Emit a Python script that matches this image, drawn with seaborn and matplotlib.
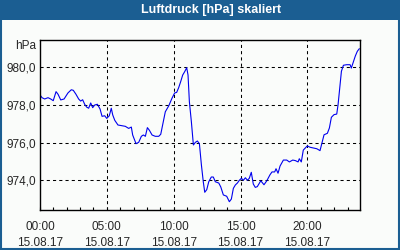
import numpy as np
import pandas as pd
import matplotlib
matplotlib.use("Agg")
import matplotlib.pyplot as plt
from matplotlib.patches import Rectangle
import seaborn as sns

# Data (hours of 15.08.17, pressure in hPa)
hours = [0.05, 0.15, 0.35, 0.60, 0.80, 0.99, 1.20, 1.35, 1.55, 1.80,
         2.09, 2.34, 2.49, 2.69, 2.89, 3.04, 3.19, 3.34, 3.49, 3.64,
         3.79, 3.94, 4.09, 4.29, 4.49, 4.64, 4.84, 4.99, 5.18, 5.33,
         5.44, 5.59, 5.83, 6.13, 6.38, 6.63, 6.83, 6.93, 7.18, 7.38,
         7.58, 7.73, 7.88, 8.03, 8.18, 8.38, 8.62, 8.88, 9.03, 9.22,
         9.37, 9.63, 9.87, 10.07, 10.22, 10.37, 10.52, 10.67, 10.82, 10.97,
         11.07, 11.17, 11.32, 11.47, 11.62, 11.77, 11.92, 12.07, 12.21, 12.32,
         12.47, 12.62, 12.81, 12.96, 13.11, 13.37, 13.52, 13.71, 13.96, 14.16,
         14.31, 14.46, 14.61, 14.76, 14.91, 15.06, 15.21, 15.36, 15.51, 15.65,
         15.80, 15.95, 16.10, 16.25, 16.51, 16.75, 16.96, 17.20, 17.35, 17.55,
         17.65, 17.80, 17.95, 18.20, 18.45, 18.65, 18.90, 19.10, 19.30, 19.39,
         19.54, 19.69, 19.84, 19.99, 20.19, 20.70, 20.94, 21.09, 21.24, 21.49,
         21.64, 21.79, 21.99, 22.19, 22.29, 22.39, 22.54, 22.69, 22.94, 23.19,
         23.28, 23.43, 23.58, 23.73, 23.88]
pressure = [978.49, 978.39, 978.32, 978.39, 978.32, 978.23, 978.71, 978.57, 978.27, 978.32,
            978.64, 978.81, 978.78, 978.57, 978.32, 978.21, 978.28, 978.04, 977.89, 977.83,
            978.11, 977.86, 978.00, 978.04, 977.79, 977.40, 977.43, 977.29, 977.43, 977.83,
            977.47, 977.19, 976.94, 976.90, 976.87, 976.76, 976.83, 976.41, 975.95, 976.02,
            976.34, 976.41, 976.34, 976.80, 976.66, 976.41, 976.34, 976.34, 976.45, 977.11,
            977.64, 977.96, 978.36, 978.64, 978.67, 978.92, 979.24, 979.59, 979.77, 979.98,
            979.59, 978.18, 977.11, 975.88, 976.02, 976.09, 975.95, 974.82, 973.93, 973.37,
            973.51, 973.93, 974.18, 974.18, 973.93, 973.86, 973.65, 973.23, 973.16, 972.87,
            973.01, 973.58, 973.76, 973.86, 974.01, 974.11, 974.01, 974.14, 974.01, 974.11,
            974.43, 973.81, 973.63, 973.67, 973.98, 973.77, 973.98, 974.30, 974.45, 974.45,
            974.62, 974.38, 974.76, 975.08, 975.08, 974.98, 975.08, 975.05, 974.98, 975.15,
            974.98, 975.61, 975.72, 975.83, 975.76, 975.68, 975.58, 976.00, 976.42, 976.50,
            976.78, 977.35, 977.49, 977.52, 978.02, 978.73, 979.79, 980.11, 980.14, 980.14,
            979.96, 980.28, 980.60, 980.85, 980.99]

xtick_pos = [0, 5, 10, 15, 20]
xtick_labels = ["00:00\n15.08.17", "05:00\n15.08.17", "10:00\n15.08.17",
                "15:00\n15.08.17", "20:00\n15.08.17"]
ytick_pos = [974, 976, 978, 980]
ytick_labels = ["974,0", "976,0", "978,0", "980,0"]
title = "Luftdruck [hPa] skaliert"
unit = "hPa"

sns.set_style("white")
plt.rcParams["font.family"] = ["Liberation Sans", "DejaVu Sans"]

bg = "#fafcfa"
frame_blue = "#1b5e92"

fig = plt.figure(figsize=(4, 2.5), dpi=100, facecolor=bg)
ax = fig.add_axes([0.1, 0.16, 0.8, 0.68])
ax.set_facecolor(bg)

df = pd.DataFrame({"h": hours, "p": pressure})
sns.lineplot(data=df, x="h", y="p", ax=ax, color="#0000ee", linewidth=0.8)

ax.set_xlim(0, 23.93)
ax.set_ylim(972.43, 981.45)
ax.set_xlabel("")
ax.set_ylabel("")

ax.set_xticks(xtick_pos)
ax.set_xticklabels(xtick_labels, fontsize=8.5, linespacing=1.45)
ax.set_xticks(np.arange(0, 24, 1), minor=True)
ax.set_yticks(ytick_pos)
ax.set_yticklabels(ytick_labels, fontsize=8.5)
ax.tick_params(axis="x", which="both", direction="in", length=2.5, width=0.8,
               color="black", pad=8, bottom=True)
ax.tick_params(axis="y", length=0, pad=3)

for v in ytick_pos:
    ax.axhline(v, color="black", lw=0.75, ls=(0, (3, 3)), zorder=1)
for v in xtick_pos[1:]:
    ax.axvline(v, color="black", lw=0.75, ls=(0, (3, 3)), zorder=1)

for s in ax.spines.values():
    s.set_visible(True)
    s.set_color("black")
    s.set_linewidth(1.0)

# title bar and frame
fig.patches.append(Rectangle((0, 1 - 20 / 250), 1, 20 / 250, transform=fig.transFigure,
                             facecolor=frame_blue, edgecolor="none", zorder=0))
fig.patches.append(Rectangle((0.002, 0.003), 0.996, 0.994, transform=fig.transFigure,
                             facecolor="none", edgecolor=frame_blue, lw=1.5, zorder=5))
fig.text(211 / 400, 1 - 10.5 / 250, title, color="white", fontweight="bold",
         fontsize=9, ha="center", va="center")
fig.text(36 / 400, 1 - 46 / 250, unit, fontsize=8.5, ha="right", va="center")

fig.savefig("out.png", dpi=100, facecolor=bg)
